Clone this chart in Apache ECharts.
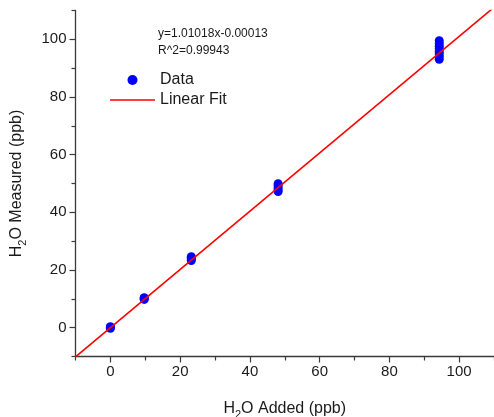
<!DOCTYPE html>
<html>
<head>
<meta charset="utf-8">
<script src="https://cdn.jsdelivr.net/npm/echarts@6/dist/echarts.min.js"></script>
<style>html,body{margin:0;padding:0;background:#fff}#c{width:494px;height:417px}</style>
</head>
<body>
<div id="c"></div>
<script>
// Data
var addedLevels = [0, 9.7, 23.2, 48.1, 94.3];
var measured0 = [-0.2, 0.1, 0.3];
var measured1 = [9.8, 10.1, 10.4];
var measured2 = [23.3, 23.8, 24.3, 24.6];
var measured3 = [47.2, 47.8, 48.5, 49.2, 49.9];
var measured4 = [93.1, 94.0, 94.9, 95.8, 96.7, 97.6, 98.5, 99.5];
var measuredGroups = [measured0, measured1, measured2, measured3, measured4];
var fitSlope = 1.01018;
var fitIntercept = -0.00013;
var fitXRange = [-10, 110];
var tickLabels = [0, 20, 40, 60, 80, 100];
var equationText = 'y=1.01018x-0.00013';
var r2Text = 'R^2=0.99943';

var scatterData = [];
addedLevels.forEach(function (x, i) {
  measuredGroups[i].forEach(function (y) { scatterData.push([x, y]); });
});
var fitData = fitXRange.map(function (x) { return [x, fitSlope * x + fitIntercept]; });

var FONT = '"Liberation Sans", Arial, sans-serif';
var TXT = '#1a1a1a';
var AX = '#3a3a3a';

function axisCfg(nameParts, isY) {
  return {
    type: 'value',
    min: -10, max: 110, interval: 20,
    name: nameParts,
    nameLocation: 'middle',
    nameGap: isY ? 47 : 40,
    nameTextStyle: {
      fontFamily: FONT, fontSize: 16, color: TXT,
      rich: {
        a: { fontFamily: FONT, fontSize: 16, color: TXT },
        s: { fontFamily: FONT, fontSize: 11, color: TXT, verticalAlign: 'bottom', lineHeight: 24 }
      }
    },
    axisLine: { show: true, onZero: false, lineStyle: { color: AX, width: 1.3 } },
    axisTick: { show: true, inside: false, length: 4, lineStyle: { color: AX, width: 1.2 } },
    minorTick: { show: true, splitNumber: 2, length: 6, lineStyle: { color: AX, width: 1.2 } },
    axisLabel: { customValues: tickLabels, fontFamily: FONT, fontSize: 15, color: TXT, margin: isY ? 9 : 8 },
    splitLine: { show: false },
    minorSplitLine: { show: false }
  };
}

var chart = echarts.init(document.getElementById('c'), null, { renderer: 'canvas' });
chart.setOption({
  animation: false,
  backgroundColor: '#fff',
  grid: { left: 75.5, right: 0, top: 10.5, bottom: 60.5, containLabel: false, outerBoundsMode: 'none' },
  title: {
    text: equationText + '\n' + r2Text,
    left: 153, top: 20,
    textStyle: { fontFamily: FONT, fontSize: 12, fontWeight: 'normal', color: TXT, lineHeight: 17 }
  },
  legend: {
    orient: 'vertical', left: 105, top: 67,
    itemWidth: 45, itemHeight: 10, itemGap: 4,
    textStyle: { fontFamily: FONT, fontSize: 16, color: TXT, padding: [0, 0, 0, 0] },
    data: [
      { name: 'Data', icon: 'circle' },
      { name: 'Linear Fit', icon: 'path://M0,0L45,0L45,1.6L0,1.6Z' }
    ]
  },
  xAxis: axisCfg('{a|H}{s|2}{a|O Added (ppb)}', false),
  yAxis: axisCfg('{a|H}{s|2}{a|O Measured (ppb)}', true),
  series: [
    {
      name: 'Linear Fit', type: 'line', data: fitData, symbol: 'none', showSymbol: false, clip: true,
      lineStyle: { color: '#ff0000', width: 1.6 }, itemStyle: { color: '#ff0000' }, z: 3
    },
    {
      name: 'Data', type: 'scatter', data: scatterData, symbol: 'circle', symbolSize: 9,
      itemStyle: { color: '#0000ff', opacity: 1 }, z: 2
    }
  ]
});
</script>
</body>
</html>
